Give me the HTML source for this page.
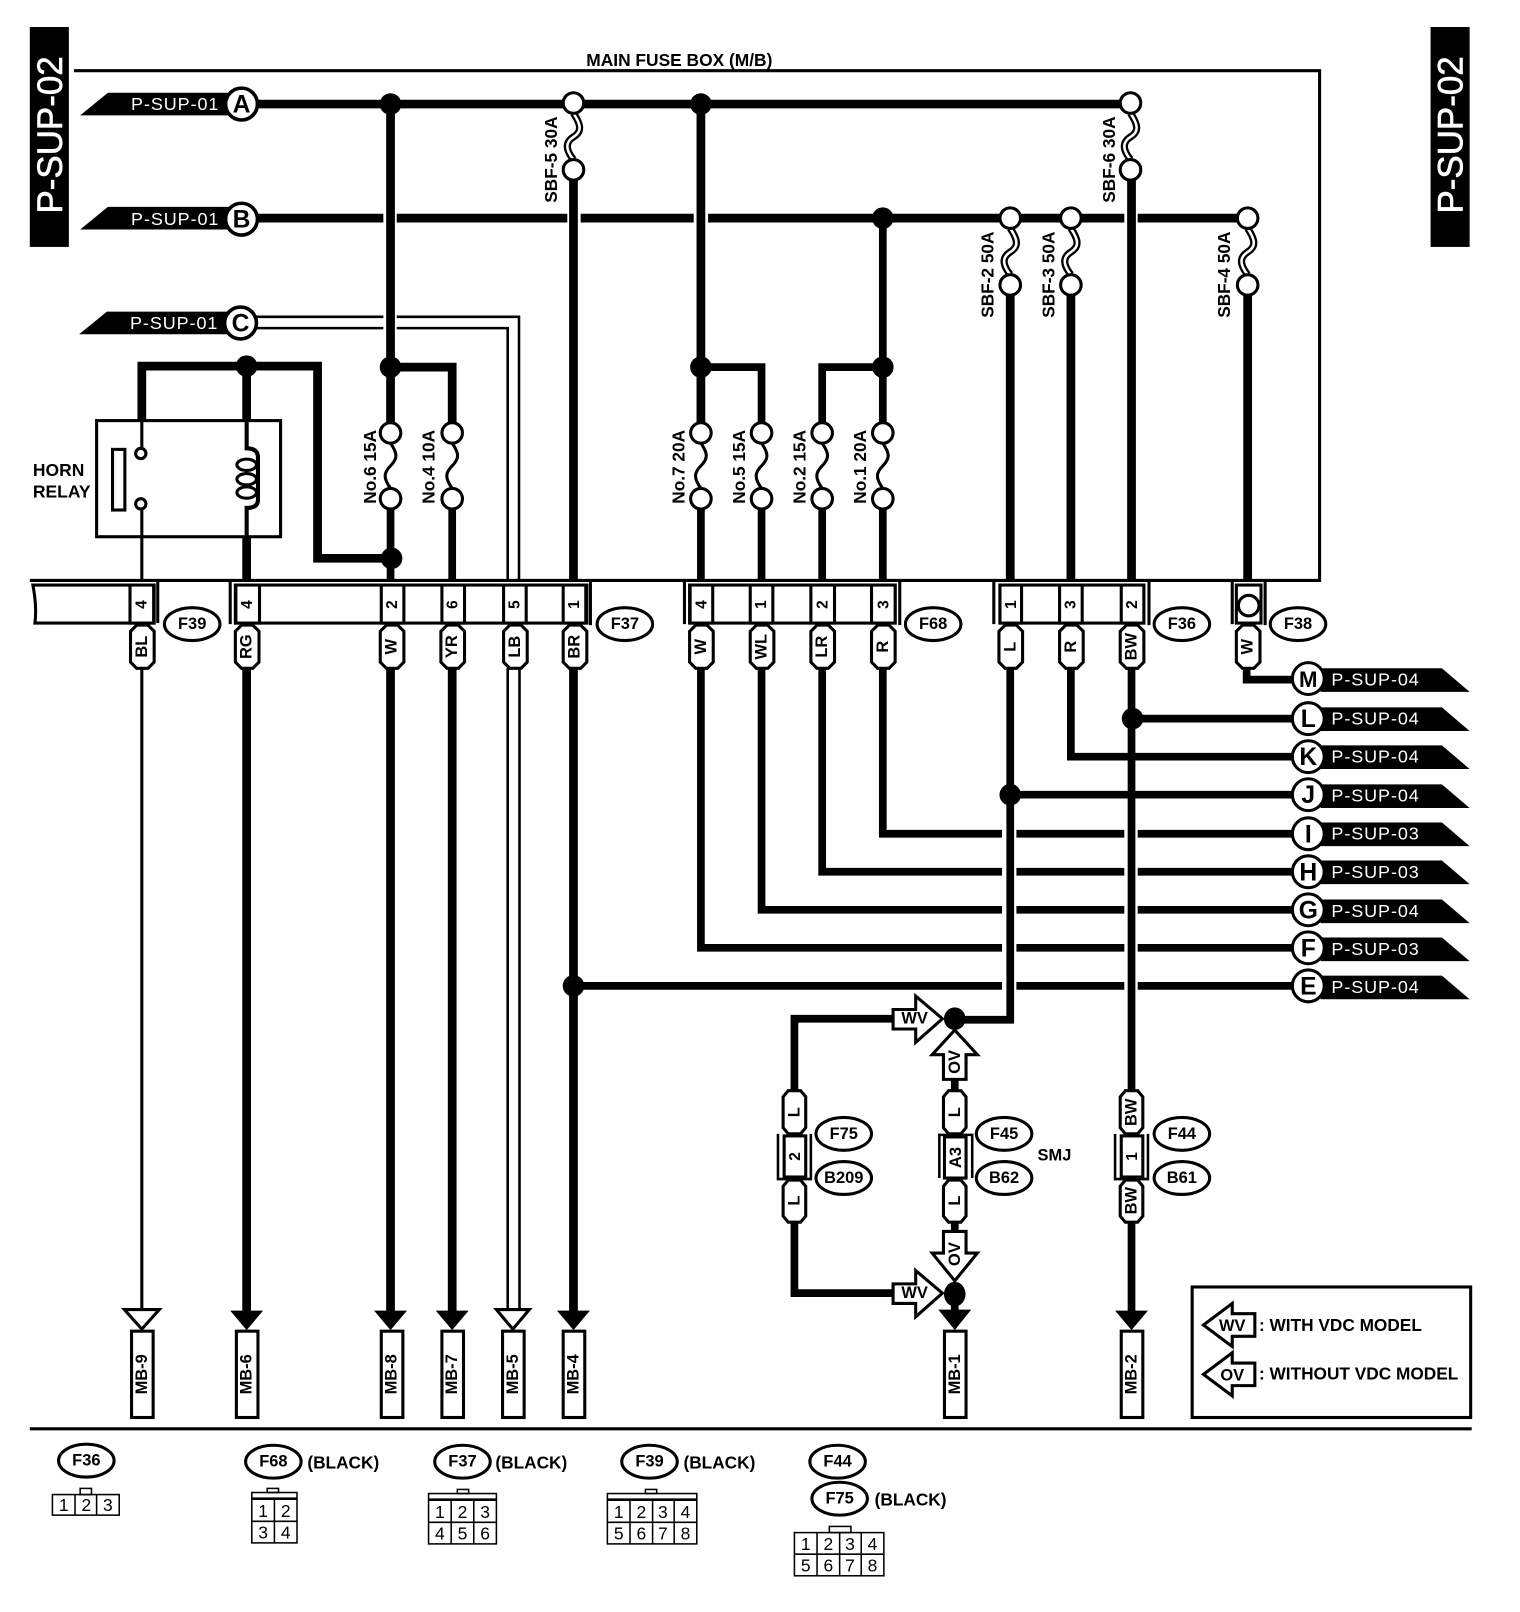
<!DOCTYPE html>
<html><head><meta charset="utf-8"><style>
html,body{margin:0;padding:0;background:#fff}
svg{display:block}
text{font-family:"Liberation Sans",sans-serif;font-weight:bold;text-anchor:middle;dominant-baseline:central;fill:#000;font-size:15px}
.w{fill:#fff;font-weight:normal;font-size:17.5px}
.n{font-weight:normal;font-size:17px}
.s{font-size:16px}
.k{font-size:16.800px}
.f{font-size:16.800px}
.l{fill:none;stroke:#000;stroke-width:8.5}
.m{fill:none;stroke:#000;stroke-width:7.5}
.h{fill:none;stroke:#000;stroke-width:3}
.b{fill:#fff;stroke:#000;stroke-width:3}
.g{fill:#fff;stroke:none}
.d{fill:#000}
</style></head><body>
<svg width="1520" height="1612" viewBox="0 0 1479 1568" xmlns="http://www.w3.org/2000/svg">
<rect x="0" y="0" width="1479" height="1568" fill="#fff"/>

<!-- side tabs -->
<rect x="29" y="26" width="38" height="214" fill="#000"/>
<text transform="translate(49,131) rotate(-90)" class="w" style="font-size:34px" stroke="#fff" stroke-width=".6">P-SUP-02</text>
<rect x="1392" y="26" width="38" height="214" fill="#000"/>
<text transform="translate(1412,131) rotate(-90)" class="w" style="font-size:34px" stroke="#fff" stroke-width=".6">P-SUP-02</text>

<!-- fuse box -->
<path class="h" d="M72 68.500H1284V564.500H29"/>
<text x="661" y="58" style="font-size:16.900px">MAIN FUSE BOX (M/B)</text>

<!-- left tags -->
<polygon points="78,112 105,90 225,90 225,112" class="d"/>
<text x="170" y="101" class="w" textLength="85">P-SUP-01</text>
<polygon points="78,223 105,201 225,201 225,223" class="d"/>
<text x="170" y="213" class="w" textLength="85">P-SUP-01</text>
<polygon points="77,325 104,303 225,303 225,325" class="d"/>
<text x="169" y="314" class="w" textLength="85">P-SUP-01</text>

<!-- bus A, B -->
<path class="l" d="M240 101H1092"/>
<path class="l" d="M240 212H373M386 212H552M565 212H675M689 212H1094M1107 212H1206"/>

<!-- C double wire -->
<path d="M240 308H373M386 308H505V565M240 319H373M386 319H494V565" fill="none" stroke="#000" stroke-width="2.500"/>

<!-- verticals -->
<path class="l" d="M380 101V412"/>
<path class="l" d="M380 357H440V412"/>
<path class="m" d="M380 494V565"/>
<path class="m" d="M440 494V565"/>
<path class="l" d="M558 175V565"/>
<path class="l" d="M682 101V412"/>
<path class="m" d="M682 357H741V412"/>
<path class="m" d="M682 494V565M741 494V565M800 494V565M859 494V565"/>
<path class="m" d="M859 212V412"/>
<path class="m" d="M859 357H800V412"/>
<path class="l" d="M983 287V565M1042 287V565M1101 175V565M1214 287V565"/>
<path class="l" d="M138 408V356H309V543H380"/>
<path class="l" d="M240 356V408"/>
<path class="l" d="M240 522V565"/>

<!-- junction dots -->
<g class="d">
<circle cx="380" cy="101" r="10.500"/><circle cx="682" cy="101" r="10.500"/><circle cx="859" cy="212" r="10.500"/>
<circle cx="380" cy="357" r="10.500"/><circle cx="240" cy="356" r="10.500"/><circle cx="682" cy="357" r="10.500"/><circle cx="859" cy="357" r="10.500"/>
<circle cx="381" cy="543" r="10.500"/>
</g>

<!-- fuse links thin -->
<g fill="none" stroke="#000" stroke-width="3">
<path d="M380 431C387 441 387 446 380 453S373 465 380 475"/>
<path d="M440 431C447 441 447 446 440 453S433 465 440 475"/>
<path d="M682 431C689 441 689 446 682 453S675 465 682 475"/>
<path d="M741 431C748 441 748 446 741 453S734 465 741 475"/>
<path d="M800 431C807 441 807 446 800 453S793 465 800 475"/>
<path d="M859 431C866 441 866 446 859 453S852 465 859 475"/>
</g>
<!-- SBF double wave -->
<g fill="none" stroke="#000" stroke-width="7">
<path d="M558 110C566 122 566 128 558 133S550 145 558 155"/>
<path d="M1100 110C1108 122 1108 128 1100 133S1092 145 1100 155"/>
<path d="M983 222C991 234 991 240 983 245S975 257 983 267"/>
<path d="M1042 222C1050 234 1050 240 1042 245S1034 257 1042 267"/>
<path d="M1214 222C1222 234 1222 240 1214 245S1206 257 1214 267"/>
</g>
<g fill="none" stroke="#fff" stroke-width="2.500">
<path d="M558 110C566 122 566 128 558 133S550 145 558 155"/>
<path d="M1100 110C1108 122 1108 128 1100 133S1092 145 1100 155"/>
<path d="M983 222C991 234 991 240 983 245S975 257 983 267"/>
<path d="M1042 222C1050 234 1050 240 1042 245S1034 257 1042 267"/>
<path d="M1214 222C1222 234 1222 240 1214 245S1206 257 1214 267"/>
</g>
<!-- fuse circles -->
<g class="b">
<circle cx="558" cy="100" r="10"/><circle cx="558" cy="165" r="10"/>
<circle cx="1100" cy="100" r="10"/><circle cx="1100" cy="165" r="10"/>
<circle cx="983" cy="212" r="10"/><circle cx="983" cy="277" r="10"/>
<circle cx="1042" cy="212" r="10"/><circle cx="1042" cy="277" r="10"/>
<circle cx="1214" cy="212" r="10"/><circle cx="1214" cy="277" r="10"/>
<circle cx="380" cy="421" r="10"/><circle cx="380" cy="485" r="10"/>
<circle cx="440" cy="421" r="10"/><circle cx="440" cy="485" r="10"/>
<circle cx="682" cy="421" r="10"/><circle cx="682" cy="485" r="10"/>
<circle cx="741" cy="421" r="10"/><circle cx="741" cy="485" r="10"/>
<circle cx="800" cy="421" r="10"/><circle cx="800" cy="485" r="10"/>
<circle cx="859" cy="421" r="10"/><circle cx="859" cy="485" r="10"/>
<circle cx="235" cy="101" r="15.500" stroke-width="3.500"/>
<circle cx="235" cy="213" r="15.500" stroke-width="3.500"/>
<circle cx="234" cy="314" r="15.500" stroke-width="3.500"/>
</g>
<text x="235" y="102" style="font-size:24px">A</text>
<text x="235" y="214" style="font-size:24px">B</text>
<text x="234" y="315" style="font-size:24px">C</text>

<!-- fuse labels -->
<text transform="translate(536,155) rotate(-90)" class="f">SBF-5 30A</text>
<text transform="translate(1079,155) rotate(-90)" class="f">SBF-6 30A</text>
<text transform="translate(961,267) rotate(-90)" class="f">SBF-2 50A</text>
<text transform="translate(1020,267) rotate(-90)" class="f">SBF-3 50A</text>
<text transform="translate(1191,267) rotate(-90)" class="f">SBF-4 50A</text>
<text transform="translate(360,454) rotate(-90)" class="f">No.6 15A</text>
<text transform="translate(417,454) rotate(-90)" class="f">No.4 10A</text>
<text transform="translate(660,454) rotate(-90)" class="f">No.7 20A</text>
<text transform="translate(719,454) rotate(-90)" class="f">No.5 15A</text>
<text transform="translate(778,454) rotate(-90)" class="f">No.2 15A</text>
<text transform="translate(837,454) rotate(-90)" class="f">No.1 20A</text>

<!-- horn relay -->
<rect x="94" y="409" width="179" height="113" class="h"/>
<rect x="109.500" y="437" width="12" height="59" class="h"/>
<path d="M138 409V435M138 496V565" fill="none" stroke="#000" stroke-width="3"/>
<circle cx="137" cy="441" r="5" class="b" stroke-width="2.500"/>
<circle cx="137" cy="490" r="5" class="b" stroke-width="2.500"/>
<path d="M240 409V436Q251 436 251 445V486Q251 494 240 494V522" fill="none" stroke="#000" stroke-width="4"/>
<g fill="none" stroke="#000" stroke-width="3">
<ellipse cx="240" cy="452" rx="9.500" ry="5.500"/><ellipse cx="240" cy="466" rx="9.500" ry="5.500"/><ellipse cx="240" cy="479" rx="9.500" ry="5.500"/>
</g>
<text x="32" y="457" style="font-size:17px;text-anchor:start">HORN</text>
<text x="32" y="478" style="font-size:17px;text-anchor:start">RELAY</text>

<!-- lower wires -->
<path d="M138 650V1274" fill="none" stroke="#000" stroke-width="3"/>
<path class="l" d="M240 650V1280M380 650V1280M440 650V1280M558 650V1280"/>
<path d="M494 650V1276M505.500 650V1276" fill="none" stroke="#000" stroke-width="2.500"/>
<path class="m" d="M682 650V922H975M741 650V885H975M800 650V848H975M859 650V811H975"/>
<path class="m" d="M989 922H1094M989 885H1094M989 848H1094M989 811H1094"/>
<path class="m" d="M1107 922H1262M1107 885H1262M1107 848H1262M1107 811H1262"/>
<path class="m" d="M558 959H975M989 959H1094M1107 959H1262"/>
<path class="m" d="M983 773H1262"/>
<path class="m" d="M1042 650V736H1262"/>
<path class="m" d="M1101 699H1262"/>
<path class="m" d="M1213 650V661H1262"/>
<path class="m" d="M983 650V992H930"/>
<path class="m" d="M1101 650V1060M1101 1188V1280"/>
<path class="m" d="M870 991H773V1060M773 1188V1258H870"/>
<path class="m" d="M929 1050V1060M929 1188V1198M929 1250V1280"/>
<g class="d">
<circle cx="558" cy="959" r="10.500"/><circle cx="983" cy="773" r="10.500"/><circle cx="1102" cy="699" r="10.500"/>
<ellipse cx="929" cy="991" rx="10.500" ry="11"/><ellipse cx="929" cy="1259" rx="10.500" ry="12"/>
</g>

<!-- right tags -->
<g class="d">
<polygon points="1285,650 1403,650 1430,673 1285,673"/>
<polygon points="1285,688 1403,688 1430,711 1285,711"/>
<polygon points="1285,725 1403,725 1430,748 1285,748"/>
<polygon points="1285,763 1403,763 1430,786 1285,786"/>
<polygon points="1285,800 1403,800 1430,823 1285,823"/>
<polygon points="1285,837 1403,837 1430,860 1285,860"/>
<polygon points="1285,875 1403,875 1430,898 1285,898"/>
<polygon points="1285,912 1403,912 1430,935 1285,935"/>
<polygon points="1285,949 1403,949 1430,972 1285,972"/>
</g>
<g class="b" stroke-width="3.500">
<circle cx="1273" cy="660" r="15.500"/><circle cx="1273" cy="699" r="15.500"/><circle cx="1273" cy="736" r="15.500"/>
<circle cx="1273" cy="773" r="15.500"/><circle cx="1273" cy="811" r="15.500"/><circle cx="1273" cy="848" r="15.500"/>
<circle cx="1273" cy="885" r="15.500"/><circle cx="1273" cy="922" r="15.500"/><circle cx="1273" cy="959" r="15.500"/>
</g>
<text x="1273" y="661" style="font-size:22px" textLength="18" lengthAdjust="spacingAndGlyphs">M</text><text x="1273" y="700" style="font-size:24px">L</text><text x="1273" y="737" style="font-size:24px">K</text>
<text x="1273" y="774" style="font-size:24px">J</text><text x="1273" y="812" style="font-size:24px">I</text><text x="1273" y="849" style="font-size:24px">H</text>
<text x="1273" y="886" style="font-size:24px">G</text><text x="1273" y="923" style="font-size:24px">F</text><text x="1273" y="960" style="font-size:24px">E</text>
<text x="1338" y="661" class="w" textLength="85">P-SUP-04</text>
<text x="1338" y="699" class="w" textLength="85">P-SUP-04</text>
<text x="1338" y="736" class="w" textLength="85">P-SUP-04</text>
<text x="1338" y="774" class="w" textLength="85">P-SUP-04</text>
<text x="1338" y="811" class="w" textLength="85">P-SUP-03</text>
<text x="1338" y="848" class="w" textLength="85">P-SUP-03</text>
<text x="1338" y="886" class="w" textLength="85">P-SUP-04</text>
<text x="1338" y="923" class="w" textLength="85">P-SUP-03</text>
<text x="1338" y="960" class="w" textLength="85">P-SUP-04</text>

<!-- connectors row -->
<path class="b" d="M32 569H150V606H34Q36 590 32 569Z" stroke-width="2.500"/>
<rect x="126.500" y="569" width="23" height="37" class="b" stroke-width="2.500"/>
<path class="h" d="M153.500 566V606"/>
<rect x="229" y="569" width="342" height="37" class="b" stroke-width="2.500"/>
<path class="h" d="M224 566V607M574.500 566V608"/>
<g class="b" stroke-width="2.500">
<rect x="229.500" y="569" width="23" height="37"/>
<rect x="371" y="569" width="22" height="37"/>
<rect x="430" y="569" width="22" height="37"/>
<rect x="490" y="569" width="22" height="37"/>
<rect x="548" y="569" width="22" height="37"/>
</g>
<rect x="671" y="569" width="200" height="37" class="b" stroke-width="2.500"/>
<path class="h" d="M666 566V607M875.500 566V608"/>
<g class="b" stroke-width="2.500">
<rect x="671.500" y="569" width="22" height="37"/>
<rect x="730" y="569" width="22" height="37"/>
<rect x="789" y="569" width="23" height="37"/>
<rect x="848" y="569" width="23" height="37"/>
</g>
<rect x="973" y="569" width="140" height="37" class="b" stroke-width="2.500"/>
<path class="h" d="M967 566V607M1118 566V608"/>
<g class="b" stroke-width="2.500">
<rect x="973" y="569" width="21" height="37"/>
<rect x="1031" y="569" width="22" height="37"/>
<rect x="1091" y="569" width="22" height="37"/>
</g>
<rect x="1203" y="569" width="24" height="37" class="b" stroke-width="2.500"/>
<path class="h" d="M1199 566V607M1231 566V608"/>
<circle cx="1215" cy="589" r="10" class="b"/>

<text transform="translate(138,588) rotate(-90)">4</text>
<text transform="translate(241,588) rotate(-90)">4</text>
<text transform="translate(382,588) rotate(-90)">2</text>
<text transform="translate(441,588) rotate(-90)">6</text>
<text transform="translate(501,588) rotate(-90)">5</text>
<text transform="translate(559,588) rotate(-90)">1</text>
<text transform="translate(683,588) rotate(-90)">4</text>
<text transform="translate(741,588) rotate(-90)">1</text>
<text transform="translate(801,588) rotate(-90)">2</text>
<text transform="translate(860,588) rotate(-90)">3</text>
<text transform="translate(984,588) rotate(-90)">1</text>
<text transform="translate(1042,588) rotate(-90)">3</text>
<text transform="translate(1102,588) rotate(-90)">2</text>

<!-- pills -->
<g class="b">
<path d="M127 614L133 608H144L150 614V644L144 650H133L127 644Z"/>
<path d="M229 614L235 608H246L252 614V644L246 650H235L229 644Z"/>
<path d="M370 614L376 608H387L393 614V644L387 650H376L370 644Z"/>
<path d="M429 614L435 608H446L452 614V644L446 650H435L429 644Z"/>
<path d="M490 614L496 608H507L513 614V644L507 650H496L490 644Z"/>
<path d="M548 614L554 608H565L571 614V644L565 650H554L548 644Z"/>
<path d="M671 614L677 608H688L694 614V644L688 650H677L671 644Z"/>
<path d="M730 614L736 608H747L753 614V644L747 650H736L730 644Z"/>
<path d="M789 614L795 608H806L812 614V644L806 650H795L789 644Z"/>
<path d="M848 614L854 608H865L871 614V644L865 650H854L848 644Z"/>
<path d="M972 614L978 608H989L995 614V644L989 650H978L972 644Z"/>
<path d="M1031 614L1037 608H1048L1054 614V644L1048 650H1037L1031 644Z"/>
<path d="M1090 614L1096 608H1107L1113 614V644L1107 650H1096L1090 644Z"/>
<path d="M1203 614L1209 608H1220L1226 614V644L1220 650H1209L1203 644Z"/>
</g>
<text transform="translate(138,629) rotate(-90)" class="s">BL</text>
<text transform="translate(240,629) rotate(-90)" class="s">RG</text>
<text transform="translate(381,629) rotate(-90)" class="s">W</text>
<text transform="translate(440,629) rotate(-90)" class="s">YR</text>
<text transform="translate(501,629) rotate(-90)" class="s">LB</text>
<text transform="translate(559,629) rotate(-90)" class="s">BR</text>
<text transform="translate(682,629) rotate(-90)" class="s">W</text>
<text transform="translate(741,629) rotate(-90)" class="s">WL</text>
<text transform="translate(800,629) rotate(-90)" class="s">LR</text>
<text transform="translate(859,629) rotate(-90)" class="s">R</text>
<text transform="translate(983,629) rotate(-90)" class="s">L</text>
<text transform="translate(1042,629) rotate(-90)" class="s">R</text>
<text transform="translate(1101,629) rotate(-90)" class="s">BW</text>
<text transform="translate(1214,629) rotate(-90)" class="s">W</text>

<!-- oval labels -->
<g class="b">
<ellipse cx="187" cy="607" rx="27" ry="16"/><ellipse cx="608" cy="607" rx="27" ry="16"/>
<ellipse cx="908" cy="607" rx="27" ry="16"/><ellipse cx="1150" cy="607" rx="27" ry="16"/>
<ellipse cx="1263" cy="607" rx="27" ry="16"/>
<ellipse cx="821" cy="1103" rx="27" ry="16"/><ellipse cx="821" cy="1146" rx="27" ry="16"/>
<ellipse cx="977" cy="1103" rx="27" ry="16"/><ellipse cx="977" cy="1146" rx="27" ry="16"/>
<ellipse cx="1150" cy="1103" rx="27" ry="16"/><ellipse cx="1150" cy="1146" rx="27" ry="16"/>
<ellipse cx="84" cy="1421" rx="27" ry="16"/><ellipse cx="266" cy="1422" rx="27" ry="16"/>
<ellipse cx="450" cy="1422" rx="27" ry="16"/><ellipse cx="632" cy="1422" rx="27" ry="16"/>
<ellipse cx="815" cy="1422" rx="27" ry="16"/><ellipse cx="817" cy="1458" rx="27" ry="16"/>
</g>
<text x="187" y="607" class="s">F39</text><text x="608" y="607" class="s">F37</text><text x="908" y="607" class="s">F68</text>
<text x="1150" y="607" class="s">F36</text><text x="1263" y="607" class="s">F38</text>
<text x="821" y="1103" class="s">F75</text><text x="821" y="1146" class="s">B209</text>
<text x="977" y="1103" class="s">F45</text><text x="977" y="1146" class="s">B62</text>
<text x="1150" y="1103" class="s">F44</text><text x="1150" y="1146" class="s">B61</text>
<text x="1026" y="1124" class="s">SMJ</text>
<text x="84" y="1421" class="s">F36</text><text x="266" y="1422" class="s">F68</text><text x="450" y="1422" class="s">F37</text>
<text x="632" y="1422" class="s">F39</text><text x="815" y="1422" class="s">F44</text><text x="817" y="1458" class="s">F75</text>
<text x="334" y="1423" class="k">(BLACK)</text><text x="517" y="1423" class="k">(BLACK)</text>
<text x="700" y="1423" class="k">(BLACK)</text><text x="886" y="1459" class="k">(BLACK)</text>

<!-- SMJ branch pills and joints -->
<g class="b">
<path d="M762 1067L767 1061H779L784 1067V1097L779 1103H767L762 1097Z"/>
<path d="M762 1154L767 1148H779L784 1154V1183L779 1189H767L762 1183Z"/>
<path d="M918 1067L923 1061H935L940 1067V1097L935 1103H923L918 1097Z"/>
<path d="M918 1154L923 1148H935L940 1154V1183L935 1189H923L918 1183Z"/>
<path d="M1090 1067L1095 1061H1107L1112 1067V1097L1107 1103H1095L1090 1097Z"/>
<path d="M1090 1154L1095 1148H1107L1112 1154V1183L1107 1189H1095L1090 1183Z"/>
</g>
<text transform="translate(773,1082) rotate(-90)" class="s">L</text>
<text transform="translate(773,1168) rotate(-90)" class="s">L</text>
<text transform="translate(929,1082) rotate(-90)" class="s">L</text>
<text transform="translate(929,1168) rotate(-90)" class="s">L</text>
<text transform="translate(1101,1082) rotate(-90)" class="s">BW</text>
<text transform="translate(1101,1168) rotate(-90)" class="s">BW</text>

<rect x="763" y="1105" width="21" height="40" class="b"/>
<path d="M757 1103V1147H789V1103" fill="none" stroke="#000" stroke-width="2.500"/>
<text transform="translate(774,1125) rotate(-90)">2</text>
<rect x="919" y="1106" width="21" height="40" class="b" stroke-width="3.500"/>
<path d="M914 1146V1104H946V1146" fill="none" stroke="#000" stroke-width="2.500"/>
<text transform="translate(930,1126) rotate(-90)" class="s">A3</text>
<rect x="1091" y="1105" width="21" height="40" class="b"/>
<path d="M1085 1103V1147H1117V1103" fill="none" stroke="#000" stroke-width="2.500"/>
<text transform="translate(1102,1125) rotate(-90)">1</text>

<!-- WV / OV arrows -->
<polygon class="b" points="869,982 891,982 891,969 917,991 891,1014 891,1001 869,1001"/>
<text x="890" y="991" class="s">WV</text>
<polygon class="b" points="869,1249 891,1249 891,1236 917,1258 891,1281 891,1268 869,1268"/>
<text x="890" y="1258" class="s">WV</text>
<polygon class="b" points="929,1002 951,1026 940,1026 940,1050 918,1050 918,1026 907,1026"/>
<text transform="translate(929,1033) rotate(-90)" class="s">OV</text>
<polygon class="b" points="918,1198 940,1198 940,1219 951,1219 929,1246 907,1219 918,1219"/>
<text transform="translate(929,1220) rotate(-90)" class="s">OV</text>

<!-- arrows to MB -->
<polygon points="121,1274 155,1274 138,1293" class="b"/>
<polygon points="224,1275 256,1275 240,1294" class="d"/>
<polygon points="364,1275 396,1275 380,1294" class="d"/>
<polygon points="424,1275 456,1275 440,1294" class="d"/>
<polygon points="542,1275 574,1275 558,1294" class="d"/>
<polygon points="483,1274 515,1274 499,1293" class="b"/>
<polygon points="913,1274 945,1274 929,1294" class="d"/>
<polygon points="1085,1275 1117,1275 1101,1294" class="d"/>

<!-- MB boxes -->
<g class="b">
<rect x="128" y="1295" width="21" height="84"/><rect x="230" y="1295" width="21" height="84"/>
<rect x="371" y="1295" width="21" height="84"/><rect x="430" y="1295" width="21" height="84"/>
<rect x="489" y="1295" width="21" height="84"/><rect x="548" y="1295" width="21" height="84"/>
<rect x="919" y="1295" width="21" height="84"/><rect x="1091" y="1295" width="21" height="84"/>
</g>
<text transform="translate(138,1337) rotate(-90)" class="s">MB-9</text>
<text transform="translate(240,1337) rotate(-90)" class="s">MB-6</text>
<text transform="translate(381,1337) rotate(-90)" class="s">MB-8</text>
<text transform="translate(440,1337) rotate(-90)" class="s">MB-7</text>
<text transform="translate(499,1337) rotate(-90)" class="s">MB-5</text>
<text transform="translate(558,1337) rotate(-90)" class="s">MB-4</text>
<text transform="translate(929,1337) rotate(-90)" class="s">MB-1</text>
<text transform="translate(1101,1337) rotate(-90)" class="s">MB-2</text>

<!-- legend -->
<rect x="1160" y="1252" width="271" height="127" class="h"/>
<polygon class="b" points="1171,1289 1199,1268 1199,1278 1221,1278 1221,1300 1199,1300 1199,1310"/>
<text x="1199" y="1290" class="s">WV</text>
<polygon class="b" points="1171,1337 1199,1316 1199,1326 1221,1326 1221,1348 1199,1348 1199,1358"/>
<text x="1199" y="1338" class="s">OV</text>
<text x="1225" y="1289" class="k" style="text-anchor:start">: WITH VDC MODEL</text>
<text x="1225" y="1336" class="k" style="text-anchor:start">: WITHOUT VDC MODEL</text>

<!-- bottom divider -->
<path d="M29 1390H1432" stroke="#000" stroke-width="3" fill="none"/>

<!-- connector diagrams -->
<g fill="none" stroke="#000" stroke-width="1.500">
<rect x="51" y="1454" width="65" height="20"/><path d="M73 1454V1474M94 1454V1474"/><rect x="78" y="1448" width="11" height="6"/>
<rect x="245" y="1452" width="44" height="49"/><path d="M245 1458H289M245 1480H289M267 1458V1501"/><rect x="260" y="1448" width="11" height="4"/>
<rect x="417" y="1453" width="66" height="49"/><path d="M417 1459H483M417 1481H483M439 1459V1502M461 1459V1502"/><rect x="445" y="1449" width="11" height="4"/>
<rect x="591" y="1453" width="87" height="49"/><path d="M591 1459H678M591 1481H678M613 1459V1502M635 1459V1502M656 1459V1502"/><rect x="628" y="1449" width="11" height="4"/>
<rect x="773" y="1491" width="87" height="42"/><path d="M773 1512H860M795 1491V1533M817 1491V1533M838 1491V1533"/><rect x="807" y="1485" width="21" height="6"/>
</g>
<path d="M245 1458H289M417 1459H483M591 1459H678" stroke="#000" stroke-width="2.500" fill="none"/>
<text x="62" y="1464" class="n">1</text><text x="84" y="1464" class="n">2</text><text x="105" y="1464" class="n">3</text>
<text x="256" y="1470" class="n">1</text><text x="278" y="1470" class="n">2</text><text x="256" y="1491" class="n">3</text><text x="278" y="1491" class="n">4</text>
<text x="428" y="1471" class="n">1</text><text x="450" y="1471" class="n">2</text><text x="472" y="1471" class="n">3</text>
<text x="428" y="1492" class="n">4</text><text x="450" y="1492" class="n">5</text><text x="472" y="1492" class="n">6</text>
<text x="602" y="1471" class="n">1</text><text x="624" y="1471" class="n">2</text><text x="645" y="1471" class="n">3</text><text x="667" y="1471" class="n">4</text>
<text x="602" y="1492" class="n">5</text><text x="624" y="1492" class="n">6</text><text x="645" y="1492" class="n">7</text><text x="667" y="1492" class="n">8</text>
<text x="784" y="1502" class="n">1</text><text x="806" y="1502" class="n">2</text><text x="827" y="1502" class="n">3</text><text x="849" y="1502" class="n">4</text>
<text x="784" y="1523" class="n">5</text><text x="806" y="1523" class="n">6</text><text x="827" y="1523" class="n">7</text><text x="849" y="1523" class="n">8</text>
</svg>
</body></html>
